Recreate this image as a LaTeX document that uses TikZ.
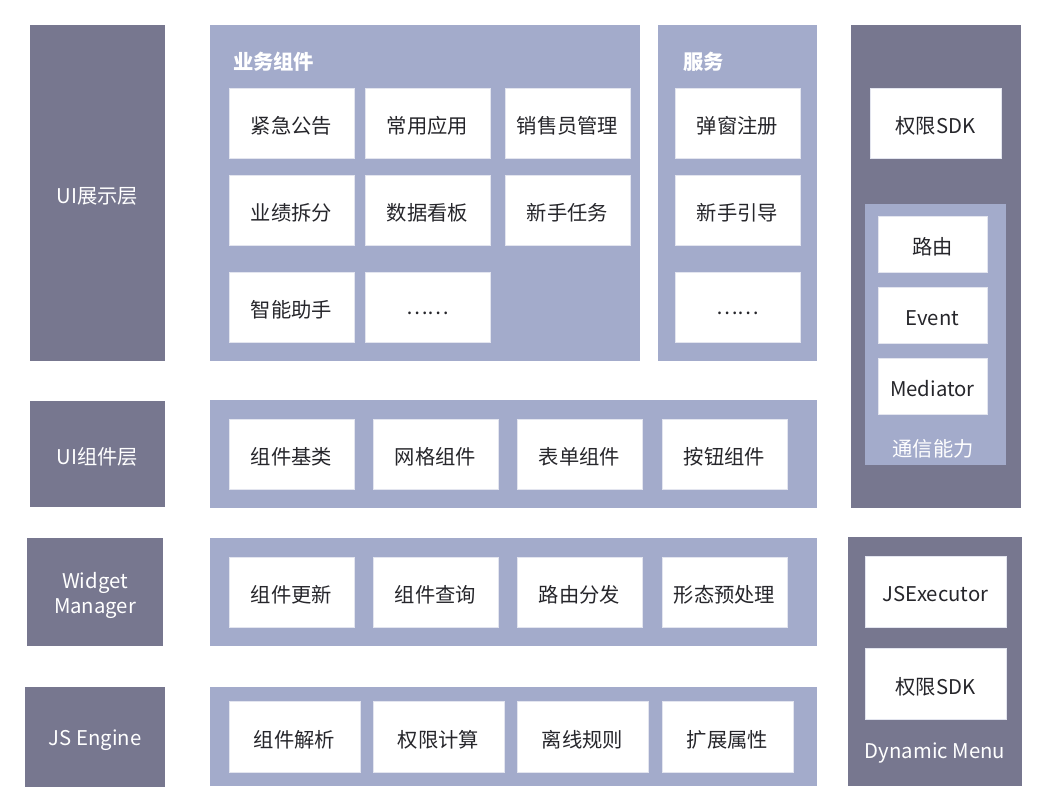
\documentclass[tikz,border=0pt]{standalone}
\usepackage{fontspec}
\setmainfont{Noto Sans CJK SC}
\definecolor{dk}{HTML}{77778F}
\definecolor{lt}{HTML}{A3ABCB}
\definecolor{bd}{HTML}{E3E5EF}
\definecolor{tx}{HTML}{26262B}
\newcommand\R[7]{\node[#6, minimum width={#4-#2}, minimum height={#5-#3}, label={[#6txt]center:{#7}}] (#1) at ({(#2+#4)/2},{(#3+#5)/2}) {};}
\newcommand\mydots{\raisebox{-9pt}{……}}
\tikzset{
  base/.style={inner sep=0pt, outer sep=0pt, align=center},
  lab/.style={base, fill=dk},
  labtxt/.style={base, text=white, yshift=-3pt, font=\fontsize{20.3}{25}\selectfont},
  panel/.style={base, fill=lt},
  paneltxt/.style={base},
  dpanel/.style={base, fill=dk},
  dpaneltxt/.style={base},
  wbox/.style={base, fill=white, draw=bd, line width=0.8pt},
  wboxtxt/.style={base, text=tx, yshift=-3pt, font=\fontsize{20.3}{24}\selectfont},
  ttl/.style={base, anchor=west, text=white, font=\bfseries\fontsize{20.3}{24}\selectfont},
  captxt/.style={base, text=white, font=\fontsize{20.3}{24}\selectfont},
}
\begin{document}
\begin{tikzpicture}[x=1pt,y=-1pt]
\useasboundingbox (0,0) rectangle (1047,811);
% left labels
\R{l1}{30}{25}{165}{361}{lab}{UI展示层}
\R{l2}{30}{401}{165}{507}{lab}{UI组件层}
\R{l3}{27}{538}{163}{646}{lab}{Widget\\Manager}
\R{l4}{25}{687}{165}{787}{lab}{JS Engine}
% business panel
\R{p1}{210}{25}{640}{361}{panel}{}
\node[ttl] (t1) at (233,62) {业务组件};
\R{b11}{229}{88}{354}{158}{wbox}{紧急公告}
\R{b12}{365}{88}{490}{158}{wbox}{常用应用}
\R{b13}{505}{88}{630}{158}{wbox}{销售员管理}
\R{b21}{229}{175}{354}{245}{wbox}{业绩拆分}
\R{b22}{365}{175}{490}{245}{wbox}{数据看板}
\R{b23}{505}{175}{630}{245}{wbox}{新手任务}
\R{b31}{229}{272}{354}{342}{wbox}{智能助手}
\R{b32}{365}{272}{490}{342}{wbox}{\mydots}
% service panel
\R{p2}{658}{25}{817}{361}{panel}{}
\node[ttl] (t2) at (683,62) {服务};
\R{s1}{675}{88}{800}{158}{wbox}{弹窗注册}
\R{s2}{675}{175}{800}{245}{wbox}{新手引导}
\R{s3}{675}{272}{800}{342}{wbox}{\mydots}
% right panel
\R{r1}{851}{25}{1021}{508}{dpanel}{}
\R{rs}{870}{88}{1001}{158}{wbox}{权限SDK}
\R{c0}{865}{204}{1006}{465}{panel}{}
\R{c1}{878}{216}{987}{272}{wbox}{路由}
\R{c2}{878}{287}{987}{343}{wbox}{Event}
\R{c3}{878}{358}{987}{414}{wbox}{Mediator}
\node[captxt] (ct) at (933,449) {通信能力};
% UI component row
\R{p3}{210}{400}{817}{508}{panel}{}
\R{u1}{229}{419}{354}{489}{wbox}{组件基类}
\R{u2}{373}{419}{498}{489}{wbox}{网格组件}
\R{u3}{517}{419}{642}{489}{wbox}{表单组件}
\R{u4}{662}{419}{787}{489}{wbox}{按钮组件}
% widget manager row
\R{p4}{210}{538}{817}{646}{panel}{}
\R{w1}{229}{557}{354}{627}{wbox}{组件更新}
\R{w2}{373}{557}{498}{627}{wbox}{组件查询}
\R{w3}{517}{557}{642}{627}{wbox}{路由分发}
\R{w4}{662}{557}{787}{627}{wbox}{形态预处理}
% js engine row
\R{p5}{210}{687}{817}{786}{panel}{}
\R{j1}{229}{701}{360}{772}{wbox}{组件解析}
\R{j2}{373}{701}{504}{772}{wbox}{权限计算}
\R{j3}{517}{701}{648}{772}{wbox}{离线规则}
\R{j4}{662}{701}{793}{772}{wbox}{扩展属性}
% dynamic menu
\R{d0}{848}{537}{1022}{786}{dpanel}{}
\R{d1}{865}{556}{1006}{627}{wbox}{JSExecutor}
\R{d2}{865}{648}{1006}{719}{wbox}{权限SDK}
\node[captxt] (dt) at (935,753) {Dynamic Menu};
\end{tikzpicture}
\end{document}
